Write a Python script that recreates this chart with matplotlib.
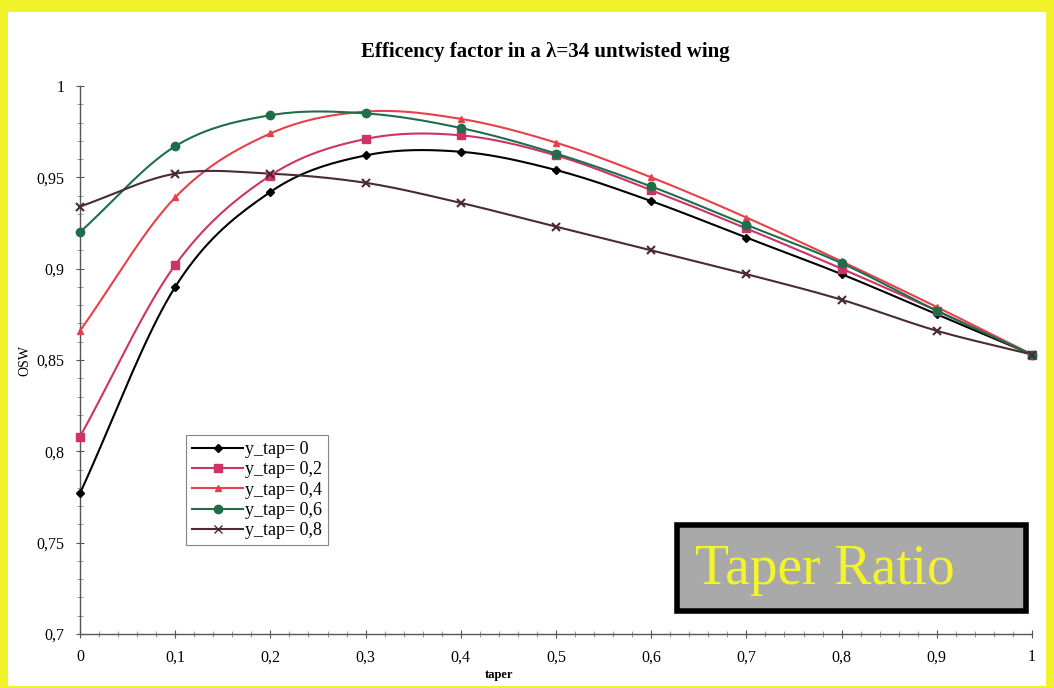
import numpy as np
import matplotlib.pyplot as plt
from matplotlib.patches import Rectangle
from matplotlib.ticker import MultipleLocator, FuncFormatter

plt.rcParams['font.family'] = ['Liberation Serif', 'DejaVu Serif']

taper = [0, 0.1, 0.2, 0.3, 0.4, 0.5, 0.6, 0.7, 0.8, 0.9, 1.0]

osw_00 = [0.777, 0.890, 0.942, 0.962, 0.964, 0.954, 0.937, 0.917, 0.897, 0.875, 0.853]
osw_02 = [0.808, 0.902, 0.951, 0.971, 0.973, 0.962, 0.943, 0.922, 0.900, 0.877, 0.853]
osw_04 = [0.866, 0.939, 0.974, 0.986, 0.982, 0.969, 0.950, 0.928, 0.904, 0.879, 0.853]
osw_06 = [0.920, 0.967, 0.984, 0.985, 0.977, 0.963, 0.945, 0.924, 0.903, 0.877, 0.853]
osw_08 = [0.934, 0.952, 0.952, 0.947, 0.936, 0.923, 0.910, 0.897, 0.883, 0.866, 0.853]

labels = ['y_tap= 0', 'y_tap= 0,2', 'y_tap= 0,4', 'y_tap= 0,6', 'y_tap= 0,8']
colors = ['#000000', '#cc3366', '#e8404a', '#1f6e4a', '#4a2a36']
markers = ['D', 's', '^', 'o', 'x']
msizes = [4, 6, 4, 6, 6]


def smooth(xs, ys, n=20):
    # Catmull-Rom curve through the points, like a smoothed spreadsheet line
    xs = np.asarray(xs, float)
    ys = np.asarray(ys, float)
    px = np.concatenate([[2 * xs[0] - xs[1]], xs, [2 * xs[-1] - xs[-2]]])
    py = np.concatenate([[2 * ys[0] - ys[1]], ys, [2 * ys[-1] - ys[-2]]])
    outx, outy = [], []
    t = np.linspace(0, 1, n, endpoint=False)
    for i in range(1, len(px) - 2):
        for p, out in ((px, outx), (py, outy)):
            p0, p1, p2, p3 = p[i - 1], p[i], p[i + 1], p[i + 2]
            out.extend(0.5 * (2 * p1 + (-p0 + p2) * t
                              + (2 * p0 - 5 * p1 + 4 * p2 - p3) * t ** 2
                              + (-p0 + 3 * p1 - 3 * p2 + p3) * t ** 3))
    outx.append(xs[-1])
    outy.append(ys[-1])
    return outx, outy


fig = plt.figure(figsize=(10.54, 6.88), dpi=100, facecolor='#f2f22a')
fig.patches.append(Rectangle((8 / 1054, 2 / 688), 1038 / 1054, 674 / 688,
                             transform=fig.transFigure, facecolor='white',
                             edgecolor='none', zorder=-1))

ax = fig.add_axes([80 / 1054, 1 - 634 / 688, 952 / 1054, 548 / 688])
ax.set_facecolor('none')

series = [osw_00, osw_02, osw_04, osw_06, osw_08]
for ys, lab, c, m, ms in zip(series, labels, colors, markers, msizes):
    sx, sy = smooth(taper, ys)
    ax.plot(sx, sy, color=c, lw=1.5)
    ax.plot(taper, ys, linestyle='none', marker=m, color=c, ms=ms,
            mew=1.5 if m == 'x' else 1, clip_on=False, zorder=3)
    ax.plot([], [], color=c, lw=1.5, marker=m, ms=ms, label=lab)

ax.set_xlim(0, 1)
ax.set_ylim(0.7, 1.0)
ax.xaxis.set_major_locator(MultipleLocator(0.1))
ax.xaxis.set_minor_locator(MultipleLocator(0.02))
ax.yaxis.set_major_locator(MultipleLocator(0.05))
ax.yaxis.set_minor_locator(MultipleLocator(0.01))

fmt = FuncFormatter(lambda v, p: ('%g' % round(v, 3)).replace('.', ','))
ax.xaxis.set_major_formatter(fmt)
ax.yaxis.set_major_formatter(fmt)

for s in ('top', 'right'):
    ax.spines[s].set_visible(False)
for s in ('left', 'bottom'):
    ax.spines[s].set_color('#555555')
    ax.spines[s].set_linewidth(1.0)
ax.tick_params(which='major', direction='inout', length=6, color='#555555',
               labelsize=11.5, pad=8)
ax.tick_params(which='minor', direction='inout', length=4, color='#888888')

fig.text(545 / 1054, 1 - 52 / 688, 'Efficency factor in a λ=34 untwisted wing',
         fontsize=15, fontweight='bold', ha='center', va='center')
ax.text(0.44, -0.075, 'taper', transform=ax.transAxes, fontsize=9,
        fontweight='bold', ha='center', va='center')
ax.text(-0.058, 0.5, 'OSW', transform=ax.transAxes, fontsize=10,
        rotation=90, ha='center', va='center')

leg = ax.legend(loc='upper left', bbox_to_anchor=(0.102, 0.38), fontsize=13,
                frameon=True, fancybox=False, borderpad=0.35,
                handlelength=2.8, handletextpad=0.1, labelspacing=0.18)
leg.get_frame().set_edgecolor('#666666')
leg.get_frame().set_linewidth(0.8)

# caption box in the lower right corner
fig.patches.append(Rectangle((677 / 1054, 1 - 611 / 688), 349 / 1054, 86 / 688,
                             transform=fig.transFigure, facecolor='#a9a9a9',
                             edgecolor='black', linewidth=4, zorder=5))
fig.text(825 / 1054, 1 - 570 / 688, 'Taper Ratio', fontsize=40,
         color='#f4f42a', ha='center', va='center', zorder=6)

fig.savefig('out.png', dpi=100, facecolor=fig.get_facecolor())
